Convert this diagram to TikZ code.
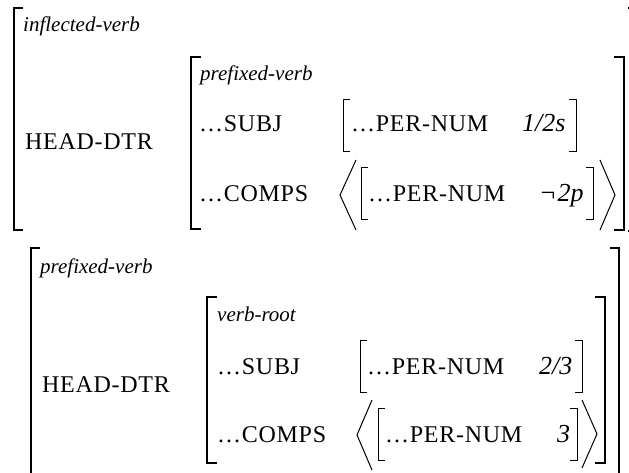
\documentclass[tikz,border=0pt]{standalone}
\usepackage{fontspec}
\setmainfont{Liberation Serif}
\newfontfamily\featfont[LetterSpace=3]{Liberation Serif}

% square brackets and angle brackets of the attribute-value matrices
\newcommand{\avmLeft}[5][avmbar]{\draw[#1] ({#2+#5},#3) -- (#2,#3) -- (#2,#4) -- ({#2+#5},#4);}
\newcommand{\avmRight}[5][avmbar]{\draw[#1] ({#2-#5},#3) -- (#2,#3) -- (#2,#4) -- ({#2-#5},#4);}
\newcommand{\avmAngle}[4]{\draw[anglebar] (#2,#3) -- (#1,{(#3+#4)/2}) -- (#2,#4);}

\tikzset{
  feat/.style={anchor=base west, inner sep=0pt, font=\featfont\fontsize{24}{24}\selectfont},
  typ/.style={anchor=base west, inner sep=0pt, font=\itshape\fontsize{21}{21}\selectfont},
  val/.style={anchor=base west, inner sep=0pt, font=\itshape\fontsize{26}{26}\selectfont},
  avmbar/.style={line width=1.8pt},
  subbar/.style={line width=1pt},
  anglebar/.style={line width=1pt},
}

\begin{document}
\begin{tikzpicture}[x=1pt,y=-1pt]
\useasboundingbox (0,0) rectangle (629,473);
\fill[white] (0,0) rectangle (629,473);

% ---- upper matrix: inflected-verb ----
\avmLeft{14}{8}{230}{9}
\avmRight{637}{8}{231}{9}
\node[typ]  (uType) at (23,32)   {inflected-verb};
\node[feat] (uHead) at (25,150)  {HEAD-DTR};

\avmLeft{191}{57}{229}{10}
\avmRight{624}{57}{230}{10}
\node[typ]  (uSubType) at (200,81)  {prefixed-verb};
\node[feat] (uSubj)    at (199,132) {…SUBJ};
\node[feat] (uComps)   at (199,202) {…COMPS};

\avmLeft[subbar]{343}{100}{152}{7}
\avmRight[subbar]{576}{100}{152}{7}
\node[feat] (uPerA) at (351,132) {…PER-NUM};
\node[val]  (uValA) at (522,132) {1/2s};

\avmAngle{340}{356}{160}{230}
\avmLeft[subbar]{361}{168}{220}{7}
\avmRight[subbar]{593}{168}{220}{7}
\avmAngle{615}{600}{160}{230}
\node[feat] (uPerB) at (368,202) {…PER-NUM};
\node[val]  (uValB) at (539,202) {¬\hspace{1pt}2p};

% ---- lower matrix: prefixed-verb ----
\avmLeft{31}{248}{490}{9}
\avmRight{619}{248}{490}{9}
\node[typ]  (lType) at (40,273)  {prefixed-verb};
\node[feat] (lHead) at (42,392)  {HEAD-DTR};

\avmLeft{207}{297}{463}{10}
\avmRight{605}{297}{463}{10}
\node[typ]  (lSubType) at (217,321) {verb-root};
\node[feat] (lSubj)    at (217,374) {…SUBJ};
\node[feat] (lComps)   at (217,442) {…COMPS};

\avmLeft[subbar]{360}{340}{392}{7}
\avmRight[subbar]{582}{340}{392}{7}
\node[feat] (lPerA) at (367,374) {…PER-NUM};
\node[val]  (lValA) at (539,374) {2/3};

\avmAngle{357}{372}{400}{470}
\avmLeft[subbar]{378}{408}{460}{7}
\avmRight[subbar]{577}{408}{460}{7}
\avmAngle{597}{582}{400}{468}
\node[feat] (lPerB) at (385,442) {…PER-NUM};
\node[val]  (lValB) at (557,442) {3};
\end{tikzpicture}
\end{document}
